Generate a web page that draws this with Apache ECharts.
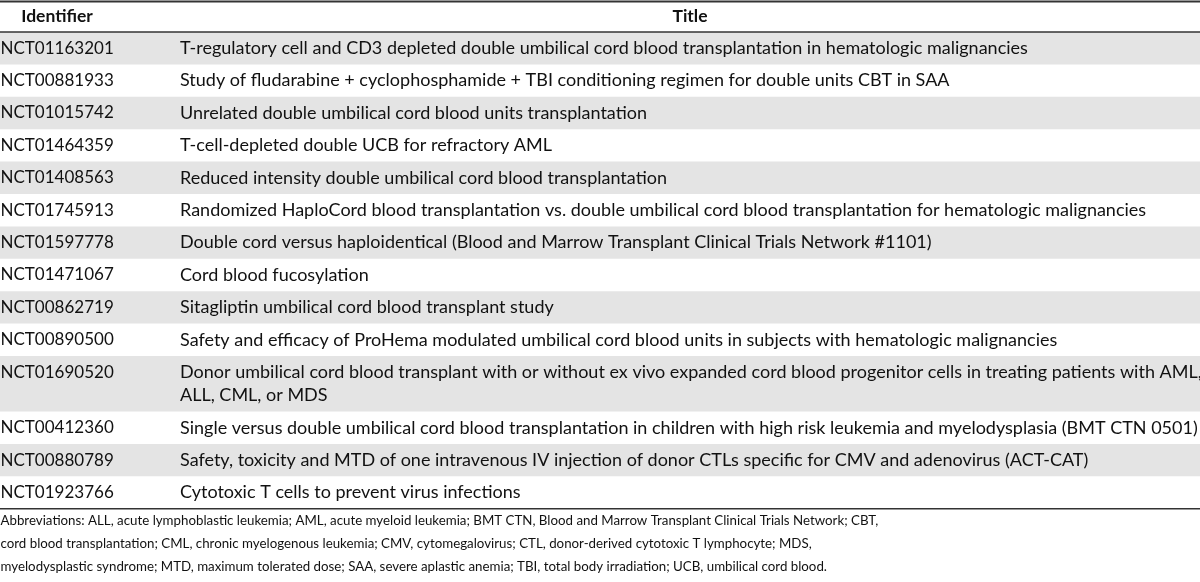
<!DOCTYPE html>
<html>
<head>
<meta charset="utf-8">
<script src="https://cdn.jsdelivr.net/npm/echarts@6/dist/echarts.min.js"></script>
<style>
html,body{margin:0;padding:0;background:#fff;}
#chart{width:1200px;height:582px;}
</style>
</head>
<body>
<div id="chart"></div>
<script>
// ---- data ----
const headers = ['Identifier', 'Title'];
const identifiers = [
  'NCT01163201','NCT00881933','NCT01015742','NCT01464359','NCT01408563',
  'NCT01745913','NCT01597778','NCT01471067','NCT00862719','NCT00890500',
  'NCT01690520','NCT00412360','NCT00880789','NCT01923766'
];
const titles = [
  'T-regulatory cell and CD3 depleted double umbilical cord blood transplantation in hematologic malignancies',
  'Study of fludarabine + cyclophosphamide + TBI conditioning regimen for double units CBT in SAA',
  'Unrelated double umbilical cord blood units transplantation',
  'T-cell-depleted double UCB for refractory AML',
  'Reduced intensity double umbilical cord blood transplantation',
  'Randomized HaploCord blood transplantation vs. double umbilical cord blood transplantation for hematologic malignancies',
  'Double cord versus haploidentical (Blood and Marrow Transplant Clinical Trials Network #1101)',
  'Cord blood fucosylation',
  'Sitagliptin umbilical cord blood transplant study',
  'Safety and efficacy of ProHema modulated umbilical cord blood units in subjects with hematologic malignancies',
  'Donor umbilical cord blood transplant with or without ex vivo expanded cord blood progenitor cells in treating patients with AML,\nALL, CML, or MDS',
  'Single versus double umbilical cord blood transplantation in children with high risk leukemia and myelodysplasia (BMT CTN 0501)',
  'Safety, toxicity and MTD of one intravenous IV injection of donor CTLs specific for CMV and adenovirus (ACT-CAT)',
  'Cytotoxic T cells to prevent virus infections'
];
const footnoteLines = [
  'Abbreviations: ALL, acute lymphoblastic leukemia; AML, acute myeloid leukemia; BMT CTN, Blood and Marrow Transplant Clinical Trials Network; CBT,',
  'cord blood transplantation; CML, chronic myelogenous leukemia; CMV, cytomegalovirus; CTL, donor-derived cytotoxic T lymphocyte; MDS,',
  'myelodysplastic syndrome; MTD, maximum tolerated dose; SAA, severe aplastic anemia; TBI, total body irradiation; UCB, umbilical cord blood.'
];

// ---- layout (styling, in axis units = px of the page) ----
const FONT = 'Lato';
const W = 1200, H = 582;
const TOP = 1.5, HEADER_H = 30.5;
const LINE_H = 23.1, ROW_PAD = 9.3;
const COL1_X = 0.5, COL2_X = 180, ID_HDR_CX = 57, TITLE_HDR_CX = 690;
const FOOT_FIRST = 12.5, FOOT_LINE_H = 22.6;
const GRAY = '#e4e4e4', INK = '#111111', RULE = '#333333';
const ID_FONT = '17px ' + FONT, ROW_FONT = '18px ' + FONT, HDR_FONT = 'bold 17.5px ' + FONT, FOOT_FONT = '13.3px ' + FONT;

// derived row extents
const rows = [];
let yCursor = TOP + HEADER_H;
identifiers.forEach((id, i) => {
  const lines = titles[i].split('\n');
  const h = lines.length * LINE_H + ROW_PAD;
  rows.push({ i, id, lines, y0: yCursor, h });
  yCursor += h;
});
const TABLE_BOTTOM = yCursor;

const chart = echarts.init(document.getElementById('chart'), null, { renderer: 'canvas' });

function txt(api, x, y, text, font, align) {
  const p = api.coord([x, y]);
  return { type: 'text', style: { text, x: p[0], y: p[1], font, fill: INK, textAlign: align || 'left', textVerticalAlign: 'middle' } };
}
function rule(api, y, w) {
  const a = api.coord([0, y]), b = api.coord([W, y]);
  return { type: 'line', shape: { x1: a[0], y1: a[1], x2: b[0], y2: b[1] }, style: { stroke: RULE, lineWidth: w } };
}

const option = {
  animation: false,
  grid: { left: 0, right: 0, top: 0, bottom: 0 },
  xAxis: { type: 'value', min: 0, max: W, show: false },
  yAxis: { type: 'value', min: 0, max: H, inverse: true, show: false },
  series: [
    {
      type: 'custom',
      name: 'rows',
      data: rows.map(r => [r.i]),
      renderItem: (params, api) => {
        const r = rows[api.value(0)];
        const children = [];
        if (r.i % 2 === 0) {
          const a = api.coord([0, r.y0]), b = api.coord([W, r.y0 + r.h]);
          children.push({ type: 'rect', shape: { x: a[0], y: a[1], width: b[0] - a[0], height: b[1] - a[1] }, style: { fill: GRAY } });
        }
        const firstMid = r.y0 + r.h / 2 - (r.lines.length - 1) * LINE_H / 2;
        children.push(txt(api, COL1_X, firstMid, r.id, ID_FONT));
        r.lines.forEach((ln, k) => children.push(txt(api, COL2_X, firstMid + k * LINE_H, ln, ROW_FONT)));
        return { type: 'group', children };
      }
    },
    {
      type: 'custom',
      name: 'frame',
      data: [[0]],
      renderItem: (params, api) => {
        const children = [
          txt(api, ID_HDR_CX, TOP + HEADER_H / 2, headers[0], HDR_FONT, 'center'),
          txt(api, TITLE_HDR_CX, TOP + HEADER_H / 2, headers[1], HDR_FONT, 'center'),
          rule(api, TOP, 2),
          rule(api, TOP + HEADER_H, 1.6),
          rule(api, TABLE_BOTTOM, 1.6)
        ];
        footnoteLines.forEach((ln, k) => {
          children.push(txt(api, COL1_X, TABLE_BOTTOM + FOOT_FIRST + k * FOOT_LINE_H, ln, FOOT_FONT));
        });
        return { type: 'group', children };
      }
    }
  ]
};
chart.setOption(option);
</script>
</body>
</html>
